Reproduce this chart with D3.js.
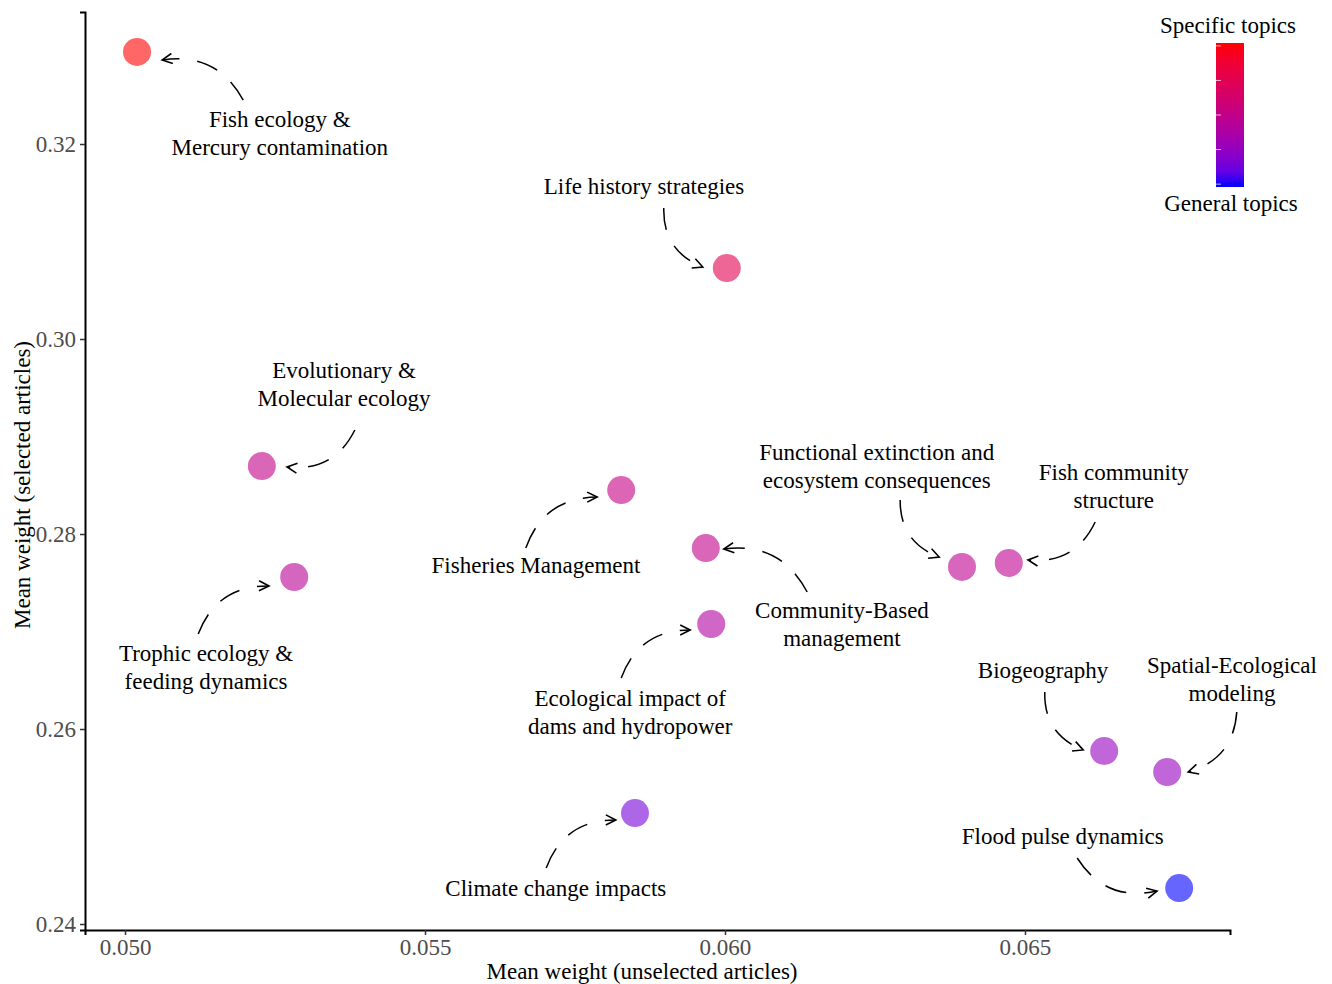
<!DOCTYPE html>
<html>
<head>
<meta charset="utf-8">
<script src="https://cdn.jsdelivr.net/npm/d3@7"></script>
<style>
  body { margin: 0; background: #fff; }
  text { font-family: "Liberation Serif", "DejaVu Serif", serif; }
</style>
</head>
<body>
<div id="chart"></div>
<script>
// topic names (label lines separated by |)
var topics = ["Fish ecology &|Mercury contamination", "Life history strategies", "Evolutionary &|Molecular ecology",
  "Fisheries Management", "Trophic ecology &|feeding dynamics", "Community-Based|management",
  "Ecological impact of|dams and hydropower", "Functional extinction and|ecosystem consequences",
  "Fish community|structure", "Biogeography", "Spatial-Ecological|modeling", "Climate change impacts",
  "Flood pulse dynamics"];
// mean weight, unselected / selected articles
var unselected = [0.0502, 0.06003, 0.05228, 0.05827, 0.05282, 0.05968, 0.05977, 0.06395, 0.06473, 0.06632, 0.06737, 0.0585, 0.06757];
var selected = [0.32944, 0.30728, 0.28697, 0.28451, 0.27559, 0.27856, 0.27077, 0.27662, 0.27703, 0.25774, 0.25559, 0.25138, 0.24369];
// specificity (0 = general, 1 = specific)
var specificity = [1.0, 0.75, 0.5, 0.52, 0.45, 0.49, 0.4, 0.47, 0.47, 0.27, 0.27, 0.16, 0.0];
// label positions (data units)
var labelX = [0.05258, 0.05865, 0.05365, 0.05685, 0.05135, 0.06195, 0.05842, 0.06253, 0.06648, 0.0653, 0.06845, 0.05718, 0.06563];
var labelY = [0.32246, 0.31559, 0.29672, 0.27672, 0.26769, 0.2721, 0.26308, 0.28831, 0.28626, 0.26595, 0.26646, 0.24359, 0.24892];
// arrow start/end (data units) and curvature
var arrowX0 = [0.05197, 0.05898, 0.05383, 0.05668, 0.05122, 0.06137, 0.05827, 0.06292, 0.06617, 0.06533, 0.06853, 0.05702, 0.06587];
var arrowY0 = [0.32451, 0.31344, 0.29067, 0.27856, 0.26974, 0.27405, 0.26523, 0.28349, 0.28123, 0.2638, 0.26174, 0.24574, 0.24677];
var arrowX1 = [0.05062, 0.05963, 0.0527, 0.05787, 0.0524, 0.05998, 0.05942, 0.06357, 0.06505, 0.06597, 0.06772, 0.05818, 0.0672];
var arrowY1 = [0.32862, 0.30738, 0.28687, 0.28379, 0.27467, 0.27846, 0.27015, 0.27764, 0.27733, 0.25785, 0.25559, 0.25067, 0.24338];
var curvature = [0.35, 0.35, -0.35, -0.35, -0.35, 0.35, -0.35, 0.35, -0.35, 0.35, -0.35, -0.35, 0.35];

var xTicks = [0.050, 0.055, 0.060, 0.065];
var yTicks = [0.24, 0.26, 0.28, 0.30, 0.32];

var W = 1332, H = 984;
var svg = d3.select("#chart").append("svg").attr("width", W).attr("height", H);

var x = d3.scaleLinear().domain([0.049333, 0.068417]).range([85, 1230]);
var y = d3.scaleLinear().domain([0.239385, 0.33354]).range([930, 12]);
var color = d3.scaleLinear().domain([0, 1]).range(["blue", "red"]).interpolate(d3.interpolateLab);

// axes
var xAxis = svg.append("g").attr("transform", "translate(0,930)")
  .call(d3.axisBottom(x).tickValues(xTicks).tickFormat(d3.format(".3f")).tickSize(5).tickPadding(4));
var yAxis = svg.append("g").attr("transform", "translate(85,0)")
  .call(d3.axisLeft(y).tickValues(yTicks).tickFormat(d3.format(".2f")).tickSize(5).tickPadding(4));
[xAxis, yAxis].forEach(function(a) {
  a.select(".domain").attr("stroke", "#000").attr("stroke-width", 2);
  a.selectAll(".tick line").attr("stroke", "#333").attr("stroke-width", 1.5);
  a.selectAll(".tick text").attr("fill", "#4d4d4d").style("font-size", "23px")
    .style("font-family", "Liberation Serif");
});

svg.append("text").attr("x", 642).attr("y", 979).attr("text-anchor", "middle")
  .style("font-size", "23px").text("Mean weight (unselected articles)");
svg.append("text").attr("transform", "translate(30,485) rotate(-90)").attr("text-anchor", "middle")
  .style("font-size", "23px").text("Mean weight (selected articles)");

// arrows
var defs = svg.append("defs");
defs.append("marker").attr("id", "arr").attr("viewBox", "-12 -6 14 12")
  .attr("markerWidth", 14).attr("markerHeight", 12).attr("markerUnits", "userSpaceOnUse")
  .attr("refX", 0).attr("refY", 0).attr("orient", "auto")
  .append("path").attr("d", "M-10,-5L0,0L-10,5").attr("fill", "none").attr("stroke", "#000").attr("stroke-width", 1.6);

topics.forEach(function(t, i) {
  var x0 = x(arrowX0[i]), y0 = y(arrowY0[i]), x1 = x(arrowX1[i]), y1 = y(arrowY1[i]);
  var dx = x1 - x0, dy = y1 - y0, c = curvature[i];
  var cx = (x0 + x1) / 2 - dy * c, cy = (y0 + y1) / 2 + dx * c;
  var p = d3.path();
  p.moveTo(x0, y0);
  p.quadraticCurveTo(cx, cy, x1, y1);
  svg.append("path").attr("d", p.toString()).attr("fill", "none").attr("stroke", "#000")
    .attr("stroke-width", 1.5).attr("stroke-dasharray", "22,18").attr("marker-end", "url(#arr)");
});

// points
svg.selectAll("circle.pt").data(topics).enter().append("circle")
  .attr("class", "pt")
  .attr("cx", function(d, i) { return x(unselected[i]); })
  .attr("cy", function(d, i) { return y(selected[i]); })
  .attr("r", 14)
  .attr("fill", function(d, i) { return color(specificity[i]); })
  .attr("fill-opacity", 0.6);

// labels
topics.forEach(function(t, i) {
  var lines = t.split("|");
  var tx = svg.append("text").attr("text-anchor", "middle").style("font-size", "23px");
  lines.forEach(function(l, j) {
    tx.append("tspan").attr("x", x(labelX[i])).attr("y", y(labelY[i]) + 7 + j * 28).text(l);
  });
});

// colour legend
var grad = defs.append("linearGradient").attr("id", "lg").attr("x1", 0).attr("y1", 1).attr("x2", 0).attr("y2", 0);
d3.range(0, 1.001, 0.1).forEach(function(s) {
  grad.append("stop").attr("offset", s).attr("stop-color", color(s));
});
svg.append("rect").attr("x", 1216).attr("y", 43).attr("width", 28).attr("height", 144).attr("fill", "url(#lg)");
[0.02, 0.26, 0.5, 0.74, 0.98].forEach(function(f) {
  svg.append("line").attr("x1", 1216).attr("x2", 1221).attr("y1", 43 + f * 144).attr("y2", 43 + f * 144)
    .attr("stroke", "#fff").attr("stroke-opacity", 0.7);
});
svg.append("text").attr("x", 1228).attr("y", 33).attr("text-anchor", "middle").style("font-size", "23px").text("Specific topics");
svg.append("text").attr("x", 1231).attr("y", 211).attr("text-anchor", "middle").style("font-size", "23px").text("General topics");
</script>
</body>
</html>
